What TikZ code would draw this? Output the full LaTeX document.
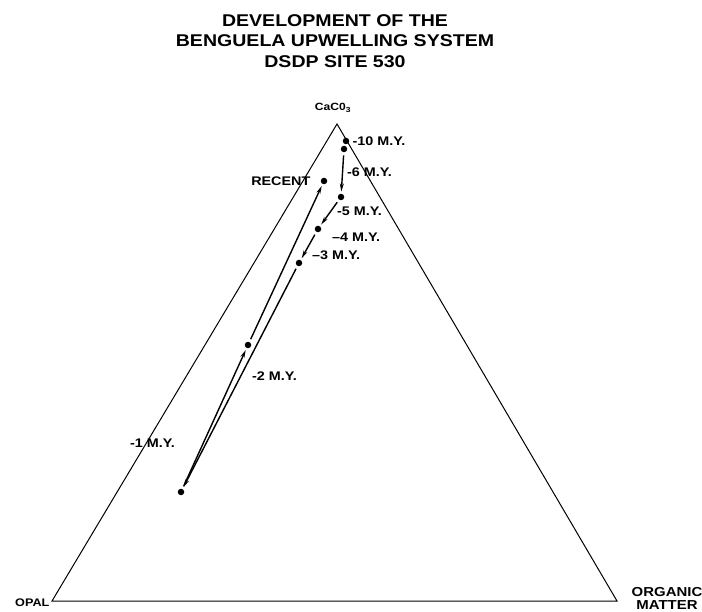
\documentclass[tikz,border=0pt]{standalone}
\usepackage{fontspec}
\setmainfont{Liberation Sans}[FakeStretch=1.15]
\usetikzlibrary{arrows.meta,positioning}

\begin{document}
\begin{tikzpicture}[
    x=1pt, y=-1pt,
    dot/.style={circle, fill, inner sep=0pt, minimum size=6.5pt},
    lbl/.style={font=\bfseries\fontsize{12.5}{14}\selectfont, inner sep=0pt},
    trend/.style={-{Stealth[length=8pt,width=4pt]}, line width=1.4pt, shorten <=3pt, shorten >=2pt}
]
\useasboundingbox (0,0) rectangle (702,612);

% ternary frame
\coordinate (opal) at (52,601);
\coordinate (org) at (617,601);
\coordinate (caco) at (337,124);
\draw[line width=1pt] (opal) -- (org) -- (caco) -- cycle;

% title
\node[font=\bfseries\fontsize{17}{20.5}\selectfont, align=center] (title) at (335,41) {DEVELOPMENT OF THE\\BENGUELA UPWELLING SYSTEM\\DSDP SITE 530};

% corner labels
\node[lbl, font=\bfseries\fontsize{10.5}{12}\selectfont] (caLbl) at (333,108) {CaC0\textsubscript{3}};
\node[lbl, font=\bfseries\fontsize{11}{13}\selectfont, anchor=west] (opalLbl) at (15,603) {OPAL};
\node[lbl, font=\bfseries\fontsize{13}{13}\selectfont, align=center] (orgLbl) at (667,598) {ORGANIC\\MATTER};

% sample ages
\node[dot] (m10) at (346,141) {};
\node[dot] (m6) at (344,149) {};
\node[dot] (m5) at (341,197) {};
\node[dot] (m4) at (318,229) {};
\node[dot] (m3) at (299,263) {};
\node[dot] (m2) at (248,345) {};
\node[dot] (m1) at (181,492) {};
\node[dot] (rec) at (324,181) {};

\node[lbl, right=3pt of m10] (l10) {-10 M.Y.};
\node[lbl, anchor=west] (l6) at (347,172) {-6 M.Y.};
\node[lbl, anchor=west] (l5) at (337,211) {-5 M.Y.};
\node[lbl, anchor=west] (l4) at (332,237) {--4 M.Y.};
\node[lbl, anchor=west] (l3) at (312,255) {--3 M.Y.};
\node[lbl, anchor=west] (l2) at (252,376) {-2 M.Y.};
\node[lbl, anchor=east] (l1) at (175,443) {-1 M.Y.};
\node[lbl, left=10pt of rec] (lrec) {RECENT};

\draw[trend] (m6) -- (m5);
\draw[trend] (m5) -- (m4);
\draw[trend] (m4) -- (m3);
\draw[trend] (m3) -- (m1);
\draw[trend] (m1) -- (m2);
\draw[trend] (m2) -- (rec);
\end{tikzpicture}
\end{document}
